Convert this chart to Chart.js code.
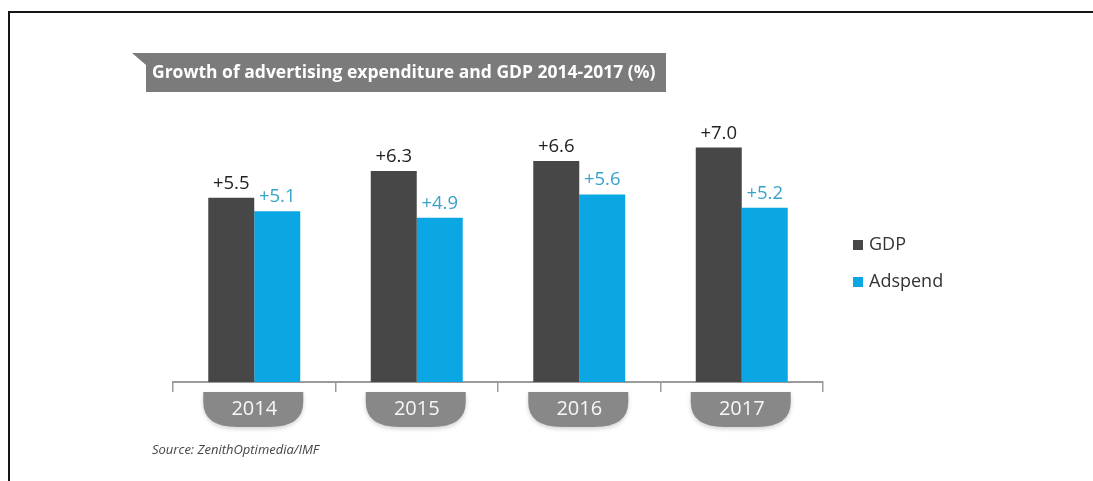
<!DOCTYPE html>
<html>
<head>
<meta charset="utf-8">
<script src="https://cdn.jsdelivr.net/npm/chart.js@4.4.1/dist/chart.umd.min.js"></script>
<style>
  html, body { margin: 0; padding: 0; background: #fff; }
  #wrap { width: 1093px; height: 481px; }
</style>
</head>
<body>
<div id="wrap"><canvas id="chart" width="1093" height="481"></canvas></div>
<script>
// growth figures, % per year
const years = ['2014', '2015', '2016', '2017'];
const gdpGrowth = [5.5, 6.3, 6.6, 7.0];
const adspendGrowth = [5.1, 4.9, 5.6, 5.2];
const seriesNames = ['GDP', 'Adspend'];
const chartTitle = 'Growth of advertising expenditure and GDP 2014-2017 (%)';
const sourceNote = 'Source: ZenithOptimedia/IMF';

const FONT = "'Open Sans', sans-serif";
const seriesColors = ['#474747', '#0aa7e4'];
const valueColors = ['#222222', '#3aa2cb'];

// frame, title banner, year tabs under the axis and the source line
const decorations = {
  id: 'decorations',
  beforeDraw(chart) {
    const ctx = chart.ctx;
    ctx.save();
    ctx.fillStyle = '#fff';
    ctx.fillRect(0, 0, chart.width, chart.height);

    ctx.fillStyle = '#151515';
    ctx.fillRect(8, 11, chart.width - 8, 2);
    ctx.fillRect(8, 11, 2, chart.height - 11);

    // banner with the notched left end
    ctx.fillStyle = '#7b7b7b';
    ctx.beginPath();
    ctx.moveTo(132, 53);
    ctx.lineTo(666, 53);
    ctx.lineTo(666, 92);
    ctx.lineTo(146, 92);
    ctx.lineTo(146, 65);
    ctx.closePath();
    ctx.fill();
    ctx.fillStyle = '#fff';
    ctx.font = `bold 17.5px ${FONT}`;
    ctx.textBaseline = 'middle';
    ctx.textAlign = 'left';
    ctx.fillText(chartTitle, 152, 73);

    // rounded tabs behind the year labels
    const xs = chart.scales.x;
    const t = xs.top + 10, b = xs.top + 45;
    ctx.fillStyle = '#888888';
    ctx.shadowColor = 'rgba(0,0,0,0.18)';
    ctx.shadowBlur = 4;
    ctx.shadowOffsetY = 2;
    years.forEach((_, i) => {
      const cx = xs.getPixelForValue(i);
      const l = cx - 51, r = cx + 49;
      ctx.beginPath();
      ctx.moveTo(l, t);
      ctx.lineTo(r, t);
      ctx.lineTo(r, t + 10);
      ctx.quadraticCurveTo(r, b, r - 34, b);
      ctx.lineTo(l + 34, b);
      ctx.quadraticCurveTo(l, b, l, t + 10);
      ctx.closePath();
      ctx.fill();
    });
    ctx.shadowColor = 'transparent';

    ctx.fillStyle = '#444';
    ctx.font = `italic 13px ${FONT}`;
    ctx.fillText(sourceNote, 152, 450);
    ctx.restore();
  }
};

// "+x.x" above each bar
const valueLabels = {
  id: 'valueLabels',
  afterDatasetsDraw(chart) {
    const ctx = chart.ctx;
    ctx.save();
    ctx.font = `18.5px ${FONT}`;
    ctx.textAlign = 'center';
    ctx.textBaseline = 'alphabetic';
    chart.data.datasets.forEach((ds, di) => {
      ctx.fillStyle = valueColors[di];
      chart.getDatasetMeta(di).data.forEach((bar, i) => {
        ctx.fillText('+' + ds.data[i].toFixed(1), bar.x, bar.y - 9);
      });
    });
    ctx.restore();
  }
};

// legend to the right of the plot
const sideLegend = {
  id: 'sideLegend',
  afterDraw(chart) {
    const ctx = chart.ctx;
    const x = chart.chartArea.right + 30;
    ctx.save();
    ctx.font = `18px ${FONT}`;
    ctx.textBaseline = 'middle';
    ctx.textAlign = 'left';
    chart.data.datasets.forEach((ds, di) => {
      const y = 245 + di * 37;
      ctx.fillStyle = ds.backgroundColor;
      ctx.fillRect(x, y - 5, 10, 10);
      ctx.fillStyle = '#333';
      ctx.fillText(ds.label, x + 16, y);
    });
    ctx.restore();
  }
};

new Chart(document.getElementById('chart'), {
  type: 'bar',
  data: {
    labels: years,
    datasets: [
      { label: seriesNames[0], data: gdpGrowth, backgroundColor: seriesColors[0] },
      { label: seriesNames[1], data: adspendGrowth, backgroundColor: seriesColors[1] },
    ],
  },
  options: {
    responsive: false,
    animation: false,
    layout: { padding: { left: 173, right: 270, top: 114, bottom: 39 } },
    datasets: { bar: { categoryPercentage: 0.566, barPercentage: 1 } },
    plugins: { legend: { display: false }, tooltip: { enabled: false } },
    scales: {
      x: {
        afterFit: s => { s.height = 60; },
        grid: { offset: true, drawOnChartArea: false, drawTicks: true, tickLength: 10, color: '#9b9b9b', lineWidth: 1.5 },
        border: { color: '#9b9b9b', width: 2 },
        ticks: { color: '#f7f7f7', font: { family: FONT, size: 20 }, padding: 5 },
      },
      y: { display: false, min: 0, max: 8 },
    },
  },
  plugins: [decorations, valueLabels, sideLegend],
});
</script>
</body>
</html>
